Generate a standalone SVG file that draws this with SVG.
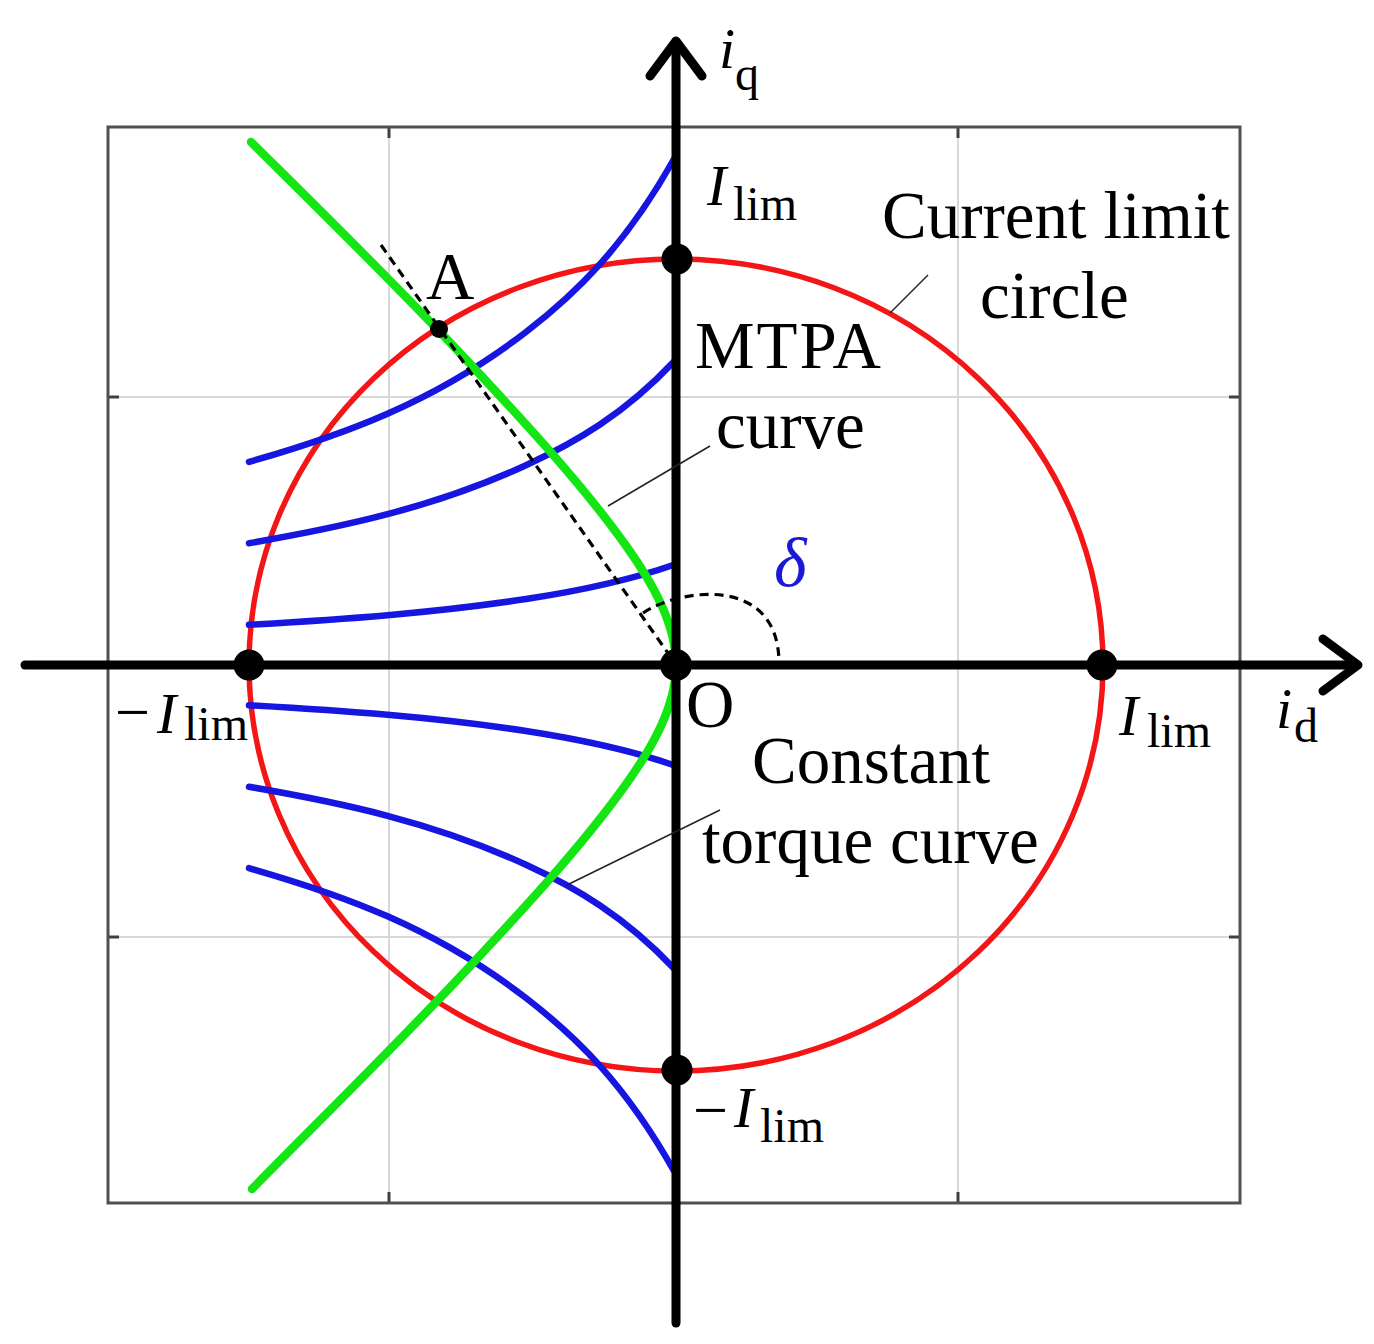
<svg xmlns="http://www.w3.org/2000/svg" width="1374" height="1344" viewBox="0 0 1374 1344">
<defs>
<style>
.frame{fill:none;stroke:#505050;stroke-width:3}
.grid{stroke:#d8d8d8;stroke-width:2;fill:none}
.tick{stroke:#404040;stroke-width:3}
.lim{fill:none;stroke:#f41616;stroke-width:5.5}
.tq{fill:none;stroke:#1616e0;stroke-width:6.5;stroke-linecap:round;stroke-linejoin:round}
.mtpa{fill:none;stroke:#14e614;stroke-width:8.5;stroke-linecap:round;stroke-linejoin:round}
.dash{fill:none;stroke:#000;stroke-width:3.2;stroke-dasharray:9 6}
.axis{fill:none;stroke:#000;stroke-width:9;stroke-linecap:round;stroke-linejoin:round}
.lead{fill:none;stroke:#222;stroke-width:1.5}
.dot{fill:#000}
text{font-family:"Liberation Serif","Times New Roman",serif;fill:#000}
.big{font-size:67px}
.it{font-style:italic;font-size:58px}
.sub{font-size:48px}
.minus{font-size:62px}
</style>
</defs>
<rect width="1374" height="1344" fill="#fff"/>
<g id="frame">
<line class="grid" x1="389" y1="127" x2="389" y2="1203"/>
<line class="grid" x1="958" y1="127" x2="958" y2="1203"/>
<line class="grid" x1="108" y1="397" x2="1240" y2="397"/>
<line class="grid" x1="108" y1="937" x2="1240" y2="937"/>
<line class="tick" x1="389" y1="127" x2="389" y2="138"/>
<line class="tick" x1="958" y1="127" x2="958" y2="138"/>
<line class="tick" x1="389" y1="1203" x2="389" y2="1192"/>
<line class="tick" x1="958" y1="1203" x2="958" y2="1192"/>
<line class="tick" x1="108" y1="397" x2="119" y2="397"/>
<line class="tick" x1="108" y1="937" x2="119" y2="937"/>
<line class="tick" x1="1240" y1="397" x2="1229" y2="397"/>
<line class="tick" x1="1240" y1="937" x2="1229" y2="937"/>
<rect class="frame" x="108" y="127" width="1132" height="1076"/>
</g>
<g id="current-limit-circle">
<ellipse class="lim" cx="676" cy="665" rx="427" ry="406"/>
</g>
<g id="constant-torque-curves">
<path class="tq" d="M674,159 C624.7,246.6 575.3,294 526,332 C433.7,403 341.3,435.5 249,461.9"/>
<path class="tq" d="M674,361.5 C624.7,414 575.3,442.5 526,465.2 C433.7,507.8 341.3,527.3 249,543.2"/>
<path class="tq" d="M674,564.7 C624.7,582 575.3,591.4 526,599 C433.7,613 341.3,619.5 249,624.7"/>
<path class="tq" d="M674,765.3 C624.7,748 575.3,738.6 526,731 C433.7,717 341.3,710.5 249,705.3"/>
<path class="tq" d="M674,968.5 C624.7,916 575.3,887.5 526,864.8 C433.7,822.2 341.3,802.7 249,786.8"/>
<path class="tq" d="M674,1171 C624.7,1083.4 575.3,1036 526,998 C433.7,927 341.3,894.5 249,868.1"/>
</g>
<g id="mtpa-curve">
<path class="mtpa" d="M251,142 C326,216.3 402,290.7 471.2,365 C527.1,425 582.6,485 625.5,545 C654.1,585 676,625 676,665 C676,705 654.1,745 625.5,785 C582.6,845 527.1,905 471.2,965 C402,1039.3 326,1113.7 252,1189"/>
</g>
<g id="angle">
<line class="dash" x1="381" y1="245" x2="670" y2="656"/>
<path class="dash" d="M643,613 C680,588 778,575 779,662"/>
</g>
<g id="axes">
<line class="axis" x1="25" y1="665" x2="1356" y2="665"/>
<polyline class="axis" points="1323,639 1358,665 1323,691"/>
<line class="axis" x1="676" y1="42" x2="676" y2="1323"/>
<polyline class="axis" points="650,76 676,41 702,76"/>
</g>
<g id="points">
<circle class="dot" cx="676" cy="665" r="16"/>
<circle class="dot" cx="249" cy="665" r="15.5"/>
<circle class="dot" cx="1102" cy="665" r="15.5"/>
<circle class="dot" cx="677" cy="259" r="15.5"/>
<circle class="dot" cx="677" cy="1070" r="15.5"/>
<circle class="dot" cx="439" cy="329" r="9"/>
</g>
<g id="leaders">
<line class="lead" x1="928" y1="275" x2="890" y2="313"/>
<line class="lead" x1="710" y1="446" x2="608" y2="506"/>
<line class="lead" x1="720" y1="810" x2="567" y2="885"/>
</g>
<g id="labels">
<text class="it" x="719" y="68">i</text><text class="sub" x="735" y="90">q</text>
<text class="it" x="707" y="205">I</text><text class="sub" x="733" y="220">lim</text>
<text class="it" x="1119" y="735">I</text><text class="sub" x="1147" y="747">lim</text>
<text class="it" x="1276" y="728">i</text><text class="sub" x="1294" y="742">d</text>
<text class="minus" x="115" y="733">−</text><text class="it" x="157" y="733">I</text><text class="sub" x="184" y="740">lim</text>
<text class="minus" x="693" y="1131">−</text><text class="it" x="734" y="1127">I</text><text class="sub" x="760" y="1142">lim</text>
<text class="big" x="426" y="299">A</text>
<text class="big" x="882" y="238">Current limit</text>
<text class="big" x="980" y="318">circle</text>
<text class="big" x="695" y="368" textLength="186">MTPA</text>
<text class="big" x="716" y="448">curve</text>
<text class="big" x="686" y="727">O</text>
<text class="big" x="752" y="783">Constant</text>
<text class="big" x="702" y="863">torque curve</text>
<text x="774" y="586" style="font-size:70px;font-style:italic;fill:#1a1ad6">δ</text>
</g>
</svg>
